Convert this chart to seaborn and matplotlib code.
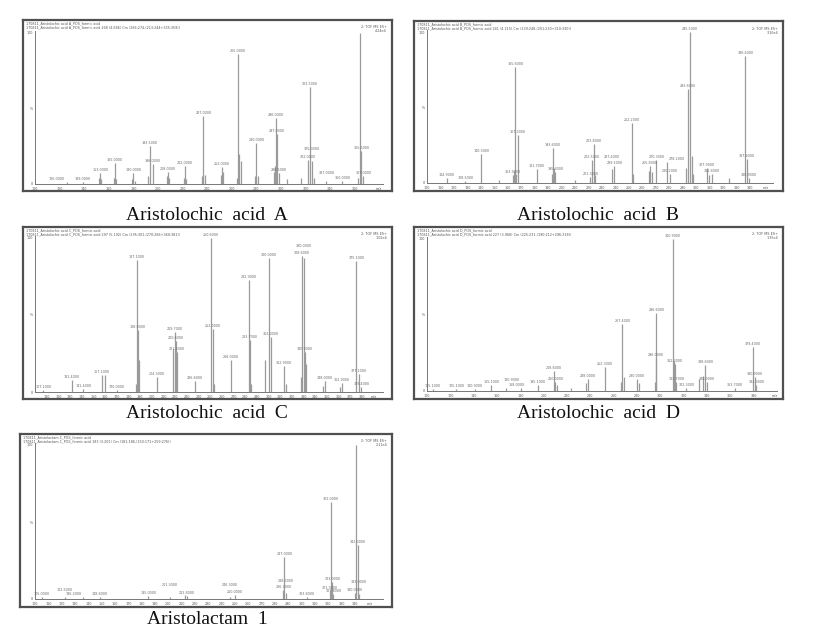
import matplotlib
matplotlib.use("Agg")
import matplotlib.pyplot as plt
import seaborn as sns
import pandas as pd

W, H = 821, 638

# ---------------- data ----------------
A_mz = [126.0, 139.0, 152.0, 153.0, 154.0, 164.0, 165.0, 166.0, 179.0, 180.0,
        181.0, 192.0, 193.5, 196.0, 207.0, 208.0, 209.0, 221.0, 222.0, 223.0,
        236.0, 237.0, 238.0, 251.0, 252.0, 253.0, 264.0, 265.0, 266.0, 267.5,
        279.0, 280.0, 281.0, 294.0, 295.0, 296.0, 297.0, 298.5, 305.0, 316.0,
        322.0, 323.5, 325.0, 327.0, 337.0, 350.0, 363.0, 364.0, 365.5, 367.0]
A_int = [1, 1.5, 4, 7, 3, 4, 14, 3, 3, 7,
         2, 5, 25, 13, 5, 8, 4, 4, 12, 3,
         5, 45, 6, 6, 11, 8, 4, 86, 20, 15,
         5, 27, 5, 8, 12, 44, 33, 7, 3, 4,
         16, 64, 15, 4, 2, 2, 4, 100, 22, 5]
A_lab = [1, 1, 0, 1, 0, 0, 1, 0, 0, 1,
         0, 0, 1, 1, 0, 1, 0, 0, 1, 0,
         0, 1, 0, 0, 1, 0, 0, 1, 0, 0,
         0, 1, 0, 0, 0, 1, 1, 1, 0, 0,
         1, 1, 1, 0, 1, 1, 0, 0, 1, 1]

B_mz = [114.9, 128.5, 140.3, 153.2, 163.9, 164.9, 165.6, 166.3, 167.3, 181.7,
        192.8, 193.6, 194.6, 195.3, 210.1, 221.3, 222.5, 223.8, 225.0, 237.4,
        239.1, 252.2, 253.0, 264.6, 265.8, 267.1, 270.3, 278.2, 280.2, 292.6,
        293.6, 295.5, 296.5, 297.5, 307.9, 309.2, 311.6, 324.0, 336.4, 337.6,
        338.9]
B_int = [3, 1, 19, 2, 5, 8, 77, 6, 32, 9,
         6, 23, 10, 7, 2, 4, 15, 26, 5, 9,
         11, 40, 6, 8, 11, 7, 15, 14, 6, 10,
         62, 100, 18, 6, 10, 5, 6, 3, 84, 16,
         3]
B_lab = [1, 1, 1, 0, 1, 0, 1, 0, 1, 1,
         0, 1, 0, 1, 0, 1, 1, 1, 0, 1,
         1, 1, 0, 0, 1, 0, 1, 1, 1, 0,
         1, 1, 0, 0, 1, 0, 1, 0, 1, 1,
         1]

C_mz = [107.1, 131.4, 141.4, 157.1, 160.0, 170.0, 186.6, 187.1, 188.0, 189.4,
        204.3, 218.6, 219.7, 220.6, 221.4, 236.6, 250.6, 252.0, 253.7, 268.0,
        282.9, 283.7, 284.9, 297.1, 300.0, 302.0, 312.9, 314.9, 328.0, 328.6,
        330.0, 330.9, 332.3, 346.6, 348.0, 361.4, 362.9, 375.1, 377.1, 379.4]
C_int = [1, 8, 2, 11, 11, 1, 5, 86, 40, 21,
         10, 28, 39, 33, 26, 7, 100, 41, 5, 21,
         73, 34, 5, 21, 87, 36, 17, 5, 10, 88,
         87, 26, 18, 4, 7, 3, 6, 85, 12, 3]
C_lab = [1, 1, 1, 1, 0, 1, 0, 1, 1, 0,
         1, 0, 1, 1, 1, 1, 1, 1, 0, 1,
         1, 1, 0, 0, 1, 1, 1, 0, 0, 1,
         1, 1, 0, 0, 1, 0, 1, 1, 1, 1]

D_mz = [105.1, 125.1, 140.9, 155.1, 168.0, 180.9, 195.1, 208.6, 210.0, 211.4,
        223.7, 236.6, 238.0, 252.3, 266.6, 267.4, 268.9, 280.0, 281.7, 295.1,
        296.0, 296.6, 310.9, 311.7, 312.3, 313.7, 322.3, 333.1, 336.6, 338.6,
        340.0, 363.7, 379.4, 380.9, 382.3]
D_int = [1, 1, 1, 4, 2, 2, 4, 13, 6, 4,
         2, 5, 8, 16, 6, 44, 9, 8, 5, 6,
         22, 51, 100, 20, 18, 6, 2, 8, 10, 17,
         6, 2, 29, 9, 4]
D_lab = [1, 1, 1, 1, 1, 1, 1, 1, 1, 0,
         0, 0, 1, 1, 0, 1, 0, 1, 0, 0,
         1, 1, 1, 0, 1, 1, 1, 0, 0, 1,
         1, 1, 1, 1, 1]

E_mz = [105.0, 122.5, 136.3, 148.8, 185.0, 201.3, 212.5, 213.8, 246.3, 250.0,
        286.3, 287.0, 288.3, 303.8, 321.3, 322.0, 323.0, 323.8, 340.0, 340.8,
        342.0, 343.0]
E_int = [1.5, 1, 1, 1.5, 2, 1.5, 2.5, 2, 1.5, 2.5,
         6, 27, 4, 1.5, 5, 63, 11, 3, 4, 100,
         35, 3]
E_lab = [1, 1, 1, 1, 1, 1, 0, 1, 1, 1,
         1, 1, 1, 1, 1, 1, 1, 1, 1, 0,
         1, 1]

captions = ["Aristolochic  acid  A", "Aristolochic  acid  B", "Aristolochic  acid  C",
            "Aristolochic  acid  D", "Aristolactam  1"]
sample_names = ["Aristolochic acid A", "Aristolochic acid B", "Aristolochic acid C",
                "Aristolochic acid D", "Aristolactam 1"]
scan_info = ["268 (4.686) Cm (266:274-(213:244+335:359))",
             "241 (4.215) Cm (239:248-(201:230+310:330))",
             "297 (5.192) Cm (295:301-(270:286+360:381))",
             "227 (3.968) Cm (225:231-(190:212+296:318))",
             "183 (3.201) Cm (181:186-(150:171+259:276))"]
base_peak = ["4.24e4", "3.16e4", "1.02e4", "1.35e4", "2.11e4"]

A_ticks = [100, 120, 140, 160, 180, 200, 220, 240, 260, 280, 300, 320, 340, 360]
B_ticks = list(range(100, 350, 10))
C_ticks = list(range(110, 390, 10))
D_ticks = [100, 120, 140, 160, 180, 200, 220, 240, 260, 280, 300, 320, 340, 360, 380]
E_ticks = list(range(100, 350, 10))

# ---------------- layout (pixels) ----------------
panels = [
    dict(mz=A_mz, it=A_int, lab=A_lab, ticks=A_ticks, mzpos=380, xlim=(100, 383),
         frame=(23, 20, 392, 191), inner=(35, 383, 33, 184), cap=(207, 215)),
    dict(mz=B_mz, it=B_int, lab=B_lab, ticks=B_ticks, mzpos=352, xlim=(100, 357),
         frame=(414, 21, 783, 191), inner=(427, 773, 32, 183), cap=(598, 215)),
    dict(mz=C_mz, it=C_int, lab=C_lab, ticks=C_ticks, mzpos=390, xlim=(100, 398),
         frame=(23, 227, 392, 399), inner=(35, 383, 238, 392), cap=(207, 414)),
    dict(mz=D_mz, it=D_int, lab=D_lab, ticks=D_ticks, mzpos=398, xlim=(100, 400),
         frame=(414, 227, 783, 399), inner=(427, 777, 239, 391), cap=(598, 414)),
    dict(mz=E_mz, it=E_int, lab=E_lab, ticks=E_ticks, mzpos=351, xlim=(100, 361),
         frame=(20, 434, 392, 607), inner=(35, 383, 445, 599), cap=(207, 620)),
]

sns.set_theme(style="white")
plt.rcParams["font.family"] = ["DejaVu Sans"]

fig = plt.figure(figsize=(W / 100, H / 100), dpi=100)
fig.patch.set_facecolor("white")


def box(x0, y0, x1, y1):
    return [x0 / W, 1 - y1 / H, (x1 - x0) / W, (y1 - y0) / H]


tiny = 2.4
LW, LH = 17.0, 4.2   # approx label box size in pixels

for k, p in enumerate(panels):
    assert len(p["mz"]) == len(p["it"]) == len(p["lab"])
    fx0, fy0, fx1, fy1 = p["frame"]
    axf = fig.add_axes(box(fx0, fy0, fx1, fy1))
    axf.set_xticks([]); axf.set_yticks([])
    axf.set_facecolor("white")
    for s in axf.spines.values():
        s.set_color("#505050"); s.set_linewidth(1.6); s.set_visible(True)
    axf.set_xlim(0, fx1 - fx0); axf.set_ylim(fy1 - fy0, 0)
    # header text (pixel coordinates inside frame)
    name = sample_names[k]
    axf.text(3, 1.5, f"170811_{name}_POS_formic acid", fontsize=tiny,
             va="top", ha="left", color="#555555")
    axf.text(3, 5.5, f"170811_{name}_POS_formic acid {scan_info[k]}",
             fontsize=tiny, va="top", ha="left", color="#555555")
    axf.text(fx1 - fx0 - 5, 5.5, "2: TOF MS ES+", fontsize=tiny, va="top", ha="right", color="#555555")
    axf.text(fx1 - fx0 - 5, 9.5, base_peak[k], fontsize=tiny, va="top", ha="right", color="#555555")

    ix0, ix1, iy100, ibase = p["inner"]
    top_px = iy100 - 2
    ax = fig.add_axes(box(ix0, top_px, ix1, ibase))
    ax.patch.set_alpha(0)
    ymax = 100 * (ibase - top_px) / (ibase - iy100)
    df = pd.DataFrame({"mz": p["mz"], "inten": p["it"], "lab": p["lab"]})
    ax.vlines(df["mz"], 0, df["inten"], colors="#9a9a9a", linewidth=0.9)

    x0d, x1d = p["xlim"]
    pxu = (ix1 - ix0) / (x1d - x0d)       # pixels per m/z unit
    pyu = (ibase - iy100) / 100.0         # pixels per % unit
    placed = []
    labdf = df[df["lab"] == 1].sort_values("inten", ascending=False)
    for _, r in labdf.iterrows():
        cx = (r["mz"] - x0d) * pxu
        cy = r["inten"] * pyu + 1.0
        best = None
        for dx, dy in [(0, 0), (0, 4.5), (10, 0), (-10, 0), (10, 4.5), (-10, 4.5), (0, 9)]:
            bx0, by0 = cx + dx - LW / 2, cy + dy
            ok = all(bx0 + LW <= q[0] or q[0] + LW <= bx0 or by0 + LH <= q[1] or q[1] + LH <= by0
                     for q in placed)
            if ok:
                best = (dx, dy, bx0, by0)
                break
        if best is None:
            best = (0, 0, cx - LW / 2, cy)
        dx, dy, bx0, by0 = best
        placed.append((bx0, by0))
        ax.text(r["mz"] + dx / pxu, r["inten"] + (1.0 + dy) / pyu, f"{r['mz']:.4f}",
                fontsize=tiny, ha="center", va="bottom", color="#6a6a6a")

    ax.set_xlim(*p["xlim"])
    ax.set_ylim(0, ymax)
    sns.despine(ax=ax, top=True, right=True)
    for s in ("left", "bottom"):
        ax.spines[s].set_color("#777777")
        ax.spines[s].set_linewidth(0.7)
    ticks = p["ticks"] + [p["mzpos"]]
    labels = [str(t) for t in p["ticks"]] + ["m/z"]
    ax.set_xticks(ticks)
    ax.set_xticklabels(labels, fontsize=tiny, color="#555555")
    ax.tick_params(axis="x", length=1.5, width=0.5, pad=0.5, colors="#777777", labelcolor="#555555")
    ax.set_yticks([0, 50, 100])
    ax.set_yticklabels(["0", "%", "100"], fontsize=tiny, color="#555555")
    ax.set_yticks(range(0, 101, 10), minor=True)
    ax.tick_params(axis="y", which="both", length=1.2, width=0.4, pad=0.5,
                   colors="#777777", labelcolor="#555555")
    ax.tick_params(axis="y", which="minor", length=0.8)

    cx, cy = p["cap"]
    fig.text(cx / W, 1 - cy / H, captions[k], fontsize=14, ha="center", va="center",
             family=["Liberation Serif", "DejaVu Serif"], color="#111111")

fig.savefig("out.png", dpi=100, facecolor="white")
